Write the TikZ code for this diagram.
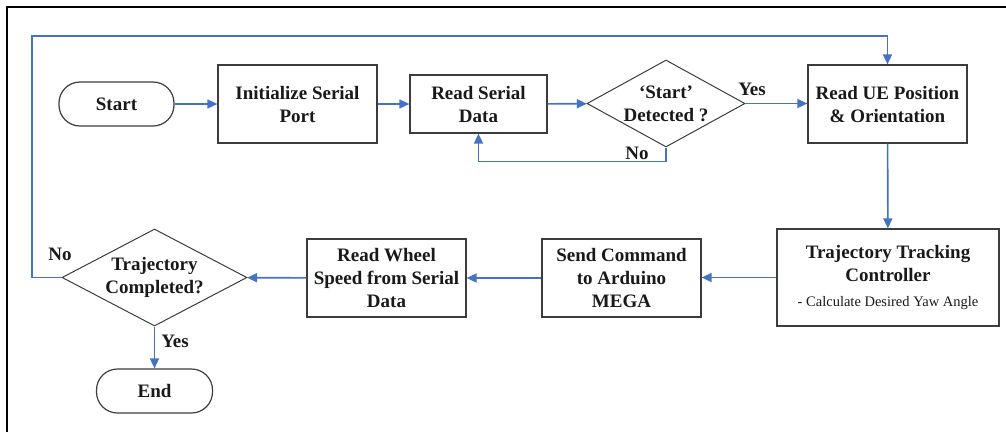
\documentclass[tikz,border=0pt]{standalone}
\usepackage{fontspec}
\setmainfont{Liberation Serif}
\usetikzlibrary{shapes.geometric,arrows.meta}
\definecolor{flowblue}{RGB}{68,114,196}
\definecolor{boxgray}{RGB}{60,60,60}
\definecolor{txt}{RGB}{25,25,25}
\begin{document}
\begin{tikzpicture}[x=1pt,y=-1pt,
 every node/.style={font=\fontsize{19}{23}\selectfont\bfseries, align=center, inner sep=0pt, text=txt},
 procbox/.style={draw=boxgray, line width=1.2pt, rectangle},
 term/.style={draw=boxgray, line width=1.2pt, rectangle, rounded corners=21pt},
 decide/.style={draw=boxgray, line width=1pt, diamond},
 flow/.style={draw=flowblue, line width=1.6pt, -{Triangle[length=10pt,width=9pt]}},
 lbl/.style={font=\fontsize{19}{23}\selectfont\bfseries}]
\useasboundingbox (0,0) rectangle (1006,432);
\draw[line width=1.2pt, black] (7,432) -- (7,7) -- (1006,7);

\node[term, minimum width=115pt, minimum height=44pt] (start) at (116.5,104) {Start};
\node[procbox, minimum width=159pt, minimum height=78pt] (init) at (297.5,104) {Initialize Serial\\Port};
\node[procbox, minimum width=137pt, minimum height=58pt] (read) at (478.5,104) {Read Serial\\Data};
\node[decide, minimum width=158pt, minimum height=87pt] (det) at (666,103.5) {};
\node (dettext) at (666,103.5) {‘Start’\\Detected ?};
\node[procbox, minimum width=159pt, minimum height=78pt] (ue) at (887.5,104) {Read UE Position\\\& Orientation};
\node[procbox, minimum width=222pt, minimum height=97pt] (ttc) at (888,277.5) {Trajectory Tracking\\Controller\\[2pt]{\fontsize{14.5}{18}\selectfont\mdseries - Calculate Desired Yaw Angle}};
\node[procbox, minimum width=159pt, minimum height=78pt] (send) at (621.5,278) {Send Command\\to Arduino\\MEGA};
\node[procbox, minimum width=159pt, minimum height=78pt] (wheel) at (386.5,278) {Read Wheel\\Speed from Serial\\Data};
\node[decide, minimum width=185pt, minimum height=97pt] (done) at (154.5,277.5) {};
\node (donetext) at (154.5,277.5) {Trajectory\\Completed?};
\node[term, minimum width=116pt, minimum height=44pt] (end) at (154.5,391) {End};

\coordinate (loopc) at (32,36);

\draw[flow] (start) -- (init);
\draw[flow] (init) -- (read);
\draw[flow] (read) -- (det);
\draw[flow] (det.east) -- (det.east -| ue.west);
\node[lbl] (yes1) at (752,89) {Yes};
\draw[flow] (det.south) -- ++(0,14) -| (read.south);
\node[lbl] (no1) at (637,153) {No};
\draw[flow] (ue) -- (ttc);
\draw[flow] (ttc.west) -- (ttc.west -| send.east);
\draw[flow] (send) -- (wheel);
\draw[flow] (wheel) -- (done);
\draw[flow] (done.west) -| (loopc) -| (ue.north);
\node[lbl] (no2) at (60,254) {No};
\draw[flow] (done) -- (end);
\node[lbl] (yes2) at (175,341) {Yes};
\end{tikzpicture}
\end{document}
